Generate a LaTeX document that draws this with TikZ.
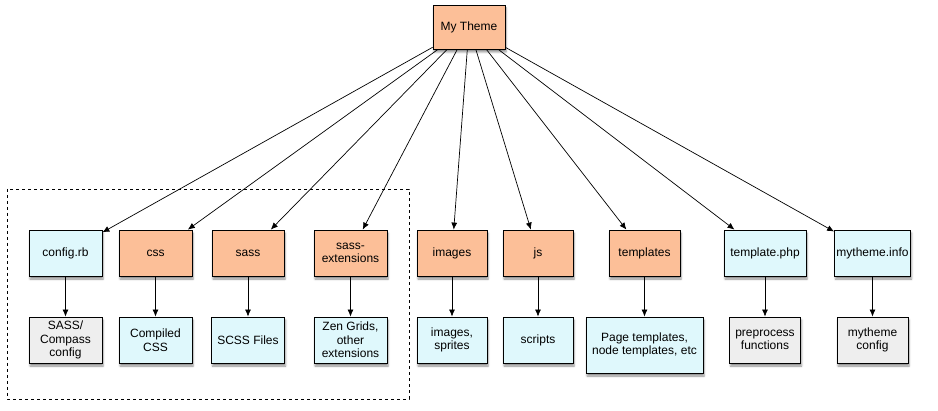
\documentclass[tikz,border=0pt]{standalone}
\usepackage{fontspec}
\setmainfont{Liberation Sans}
\usetikzlibrary{arrows.meta,shadows.blur}

\definecolor{dirfill}{HTML}{FCBF98}
\definecolor{filefill}{HTML}{DFF8FC}
\definecolor{notefill}{HTML}{EEEEEE}

\begin{document}
\begin{tikzpicture}[x=1pt,y=-1pt,
    font=\fontsize{12}{13.5}\selectfont,
    box/.style={draw=black,line width=0.8pt,align=center,inner sep=1pt,
      minimum height=46pt,
      blur shadow={shadow xshift=1pt,shadow yshift=-3pt,shadow blur radius=2pt,shadow opacity=45}},
    dirbox/.style={box,fill=dirfill},
    filebox/.style={box,fill=filefill},
    notebox/.style={box,fill=notefill},
    link/.style={line width=0.7pt,-{Latex[length=7pt,width=6pt]}}]
    \useasboundingbox (0,0) rectangle (938,411);
    % group of compass files
    \draw[dashed,line width=0.7pt] (7,189) rectangle (409,399);
    % root
    \node[dirbox,minimum width=72pt,minimum height=44pt] (theme) at (469,27) {My Theme};
    % first row
    \node[filebox,minimum width=73pt] (config) at (65.5,253) {config.rb};
    \node[dirbox,minimum width=73pt] (css) at (155.5,253) {css};
    \node[dirbox,minimum width=72pt] (sass) at (248,253) {sass};
    \node[dirbox,minimum width=73pt] (sassext) at (350.5,253) {sass-\\extensions};
    \node[dirbox,minimum width=70pt] (images) at (452,253) {images};
    \node[dirbox,minimum width=70pt] (js) at (538,253) {js};
    \node[dirbox,minimum width=71pt] (templates) at (644.5,253) {templates};
    \node[filebox,minimum width=82pt] (tplphp) at (765,253) {template.php};
    \node[filebox,minimum width=76pt] (info) at (872.5,253) {mytheme.info};
    % second row
    \node[notebox,minimum width=73pt] (compass) at (65.5,340) {SASS/\\Compass\\config};
    \node[filebox,minimum width=73pt] (compiled) at (155.5,340) {Compiled\\CSS};
    \node[filebox,minimum width=73pt] (scss) at (248,340) {SCSS Files};
    \node[filebox,minimum width=73pt] (zen) at (350.5,340) {Zen Grids,\\other\\extensions};
    \node[filebox,minimum width=70pt] (sprites) at (452,340) {images,\\sprites};
    \node[filebox,minimum width=70pt] (scripts) at (538,340) {scripts};
    \node[filebox,minimum width=117pt,minimum height=56pt] (pagetpl) at (644.5,345) {Page templates,\\node templates, etc};
    \node[notebox,minimum width=71pt] (preproc) at (765,340) {preprocess\\functions};
    \node[notebox,minimum width=71pt] (themecfg) at (872.5,340) {mytheme\\config};
    % connectors
    \foreach \n in {config,css,sass,sassext,images,js,templates,tplphp,info}
      \draw[link] (theme) -- (\n);
    \draw[link] (config) -- (compass);
    \draw[link] (css) -- (compiled);
    \draw[link] (sass) -- (scss);
    \draw[link] (sassext) -- (zen);
    \draw[link] (images) -- (sprites);
    \draw[link] (js) -- (scripts);
    \draw[link] (templates) -- (pagetpl);
    \draw[link] (tplphp) -- (preproc);
    \draw[link] (info) -- (themecfg);
\end{tikzpicture}
\end{document}
